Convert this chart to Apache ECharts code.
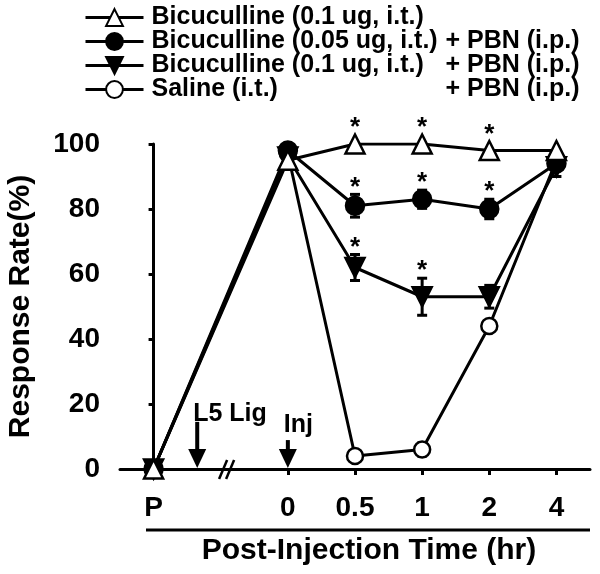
<!DOCTYPE html>
<html>
<head>
<meta charset="utf-8">
<script src="https://cdn.jsdelivr.net/npm/echarts@6/dist/echarts.min.js"></script>
<style>
  html, body { margin: 0; padding: 0; background: #fff; }
  #chart { width: 600px; height: 574px; }
</style>
</head>
<body>
<div id="chart"></div>
<script>
// categories on the time axis ('' is the gap where the axis is broken)
const times = ['P', '', '0', '0.5', '1', '2', '4'];

const names = [
  'Bicuculline (0.1 ug, i.t.)',
  'Bicuculline (0.05 ug, i.t.) + PBN (i.p.)',
  'Bicuculline (0.1 ug, i.t.) + PBN (i.p.)',
  'Saline (i.t.) + PBN (i.p.)'
];

// response rate (%) per time point
const bic01 = [0, null, 95, 100, 100, 98, 98];
const bic005Pbn = [0, null, 98, 81, 83, 80, 94];
const bic01Pbn = [0, null, 96, 62, 53, 53, 93];
const salinePbn = [0, null, 97, 4, 6, 44, 95];

// SEM
const bic01Err = [0, 0, 0, 0, 0, 0, 0];
const bic005PbnErr = [0, 0, 1, 3.5, 2.8, 3, 2];
const bic01PbnErr = [0, 0, 1, 4, 5.7, 3.5, 3];
const salinePbnErr = [0, 0, 1, 1.5, 2, 1.5, 2];

// significance marks (1 = asterisk)
const bic01Star = [0, 0, 0, 1, 1, 1, 0];
const bic005PbnStar = [0, 0, 0, 1, 1, 1, 0];
const bic01PbnStar = [0, 0, 0, 1, 1, 0, 0];
const salinePbnStar = [0, 0, 0, 0, 0, 0, 0];

// event arrows (x on a continuous copy of the time axis, y in %)
const arrowLabels = ['L5 Lig', 'Inj'];
const arrowX = [0.65, 2.0];
const arrowTop = [14.5, 8.9];
const arrowTextBase = [14.5, 11.1];
const breakX = 1.11;

const FONT = 'Liberation Sans, Arial, sans-serif';

const chart = echarts.init(document.getElementById('chart'));

function lineSeries(name, data, symbol, fill, rotate, size, z) {
  return {
    name: name,
    type: 'line',
    data: data,
    connectNulls: true,
    symbol: symbol,
    symbolSize: size,
    symbolRotate: rotate,
    z: z,
    lineStyle: { color: '#000', width: 3 },
    itemStyle: { color: fill, borderColor: '#000', borderWidth: 2.5 },
    emphasis: { disabled: true }
  };
}

function errRows(vals, errs, stars) {
  const rows = [];
  vals.forEach((v, i) => {
    if (v === null) return;
    rows.push([i, v, errs[i], stars[i]]);
  });
  return rows;
}

function errorBarItem(params, api) {
  const x = api.value(0), m = api.value(1), e = api.value(2), star = api.value(3);
  const c = api.coord([x, m]);
  const hi = api.coord([x, m + e]);
  const lo = api.coord([x, m - e]);
  const children = [];
  const st = { stroke: '#000', lineWidth: 3 };
  if (e > 0) {
    children.push({ type: 'line', shape: { x1: c[0], y1: hi[1], x2: c[0], y2: lo[1] }, style: st });
    children.push({ type: 'line', shape: { x1: c[0] - 5, y1: hi[1], x2: c[0] + 5, y2: hi[1] }, style: st });
    children.push({ type: 'line', shape: { x1: c[0] - 5, y1: lo[1], x2: c[0] + 5, y2: lo[1] }, style: st });
  }
  if (star) {
    const top = Math.min(hi[1], c[1] - 9);
    children.push({
      type: 'text', x: c[0], y: top - 7,
      style: { text: '*', font: 'bold 26px ' + FONT, align: 'center', verticalAlign: 'middle', fill: '#000' }
    });
  }
  return { type: 'group', children: children };
}

function errSeries(vals, errs, stars) {
  return {
    type: 'custom',
    data: errRows(vals, errs, stars),
    renderItem: errorBarItem,
    encode: { x: 0, y: 1 },
    z: 1,
    silent: true
  };
}

function arrowItem(params, api) {
  const i = params.dataIndex;
  const top = api.coord([api.value(0), api.value(1)]);
  const tip = api.coord([api.value(0), 0]);
  const base = api.coord([api.value(0), api.value(2)]);
  return {
    type: 'group',
    children: [
      { type: 'line', shape: { x1: top[0], y1: top[1], x2: tip[0], y2: tip[1] - 16 }, style: { stroke: '#000', lineWidth: 4 } },
      { type: 'polygon', shape: { points: [[tip[0] - 9, tip[1] - 20], [tip[0] + 9, tip[1] - 20], [tip[0], tip[1] - 1]] }, style: { fill: '#000' } },
      {
        type: 'text', x: top[0] - 4, y: base[1] - 8,
        style: { text: arrowLabels[i], font: 'bold 25px ' + FONT, align: 'left', verticalAlign: 'middle', fill: '#000' }
      }
    ]
  };
}

function breakItem(params, api) {
  const p = api.coord([api.value(0), 0]);
  const st = { stroke: '#000', lineWidth: 2.5 };
  return {
    type: 'group',
    children: [
      { type: 'line', shape: { x1: p[0] - 9, y1: p[1] + 10, x2: p[0] - 1, y2: p[1] - 9 }, style: st },
      { type: 'line', shape: { x1: p[0] - 2, y1: p[1] + 10, x2: p[0] + 6, y2: p[1] - 9 }, style: st }
    ]
  };
}

const option = {
  backgroundColor: '#fff',
  animation: false,
  textStyle: { fontFamily: FONT },
  grid: { left: 120, right: 10, top: 144, bottom: 105, outerBoundsMode: 'none' },
  legend: {
    data: names,
    orient: 'vertical',
    left: 79,
    top: 0,
    itemWidth: 58,
    itemHeight: 21,
    itemGap: -1,
    selectedMode: false,
    lineStyle: { width: 3, color: '#000' },
    formatter: function (name) {
      const parts = name.split(' + ');
      if (parts.length < 2) return '{a|' + name + '}';
      return '{a|' + parts[0] + '}{b|+ ' + parts[1] + '}';
    },
    textStyle: {
      color: '#000',
      padding: [0, 0, 0, 3],
      rich: {
        a: { width: 294, fontSize: 25, fontWeight: 'bold', color: '#000', fontFamily: FONT, lineHeight: 22 },
        b: { fontSize: 25, fontWeight: 'bold', color: '#000', fontFamily: FONT, lineHeight: 22 }
      }
    }
  },
  xAxis: [
    {
      type: 'category',
      data: times,
      boundaryGap: true,
      axisLine: { show: true, lineStyle: { color: '#000', width: 3 } },
      axisTick: {
        show: true, alignWithLabel: true, length: 6,
        interval: function (i) { return i >= 2; },
        lineStyle: { color: '#000', width: 3 }
      },
      axisLabel: { interval: 0, margin: 25, fontSize: 28, fontWeight: 'bold', color: '#000', fontFamily: FONT },
      splitLine: { show: false }
    },
    {
      type: 'value',
      min: -0.5,
      max: 6.5,
      show: false,
      splitLine: { show: false }
    }
  ],
  yAxis: {
    type: 'value',
    min: 0,
    max: 100,
    interval: 20,
    name: 'Response Rate(%)',
    nameLocation: 'middle',
    nameGap: 84,
    nameTextStyle: { fontSize: 30, fontWeight: 'bold', color: '#000', fontFamily: FONT },
    axisLine: { show: true, lineStyle: { color: '#000', width: 3 } },
    axisTick: { show: true, length: 5, lineStyle: { color: '#000', width: 3 } },
    axisLabel: { margin: 20, fontSize: 28, fontWeight: 'bold', color: '#000', fontFamily: FONT },
    splitLine: { show: false }
  },
  graphic: [
    { type: 'line', shape: { x1: 146, y1: 530, x2: 590, y2: 530 }, style: { stroke: '#000', lineWidth: 3 } },
    {
      type: 'text', x: 369, y: 551,
      style: { text: 'Post-Injection Time (hr)', font: 'bold 30px ' + FONT, align: 'center', verticalAlign: 'middle', fill: '#000' }
    }
  ],
  series: [
    lineSeries(names[0], bic01, 'triangle', '#fff', 0, 19, 5),
    lineSeries(names[1], bic005Pbn, 'circle', '#000', 0, 18, 4),
    lineSeries(names[2], bic01Pbn, 'triangle', '#000', 180, 19, 4),
    lineSeries(names[3], salinePbn, 'circle', '#fff', 0, 16, 3),
    errSeries(bic01, bic01Err, bic01Star),
    errSeries(bic005Pbn, bic005PbnErr, bic005PbnStar),
    errSeries(bic01Pbn, bic01PbnErr, bic01PbnStar),
    errSeries(salinePbn, salinePbnErr, salinePbnStar),
    {
      type: 'custom',
      xAxisIndex: 1,
      data: arrowX.map((x, i) => [x, arrowTop[i], arrowTextBase[i]]),
      renderItem: arrowItem,
      encode: { x: 0, y: 1 },
      silent: true,
      z: 6
    },
    {
      type: 'custom',
      xAxisIndex: 1,
      data: [[breakX, 0]],
      renderItem: breakItem,
      encode: { x: 0, y: 1 },
      silent: true,
      z: 6
    }
  ]
};

chart.setOption(option);
</script>
</body>
</html>
